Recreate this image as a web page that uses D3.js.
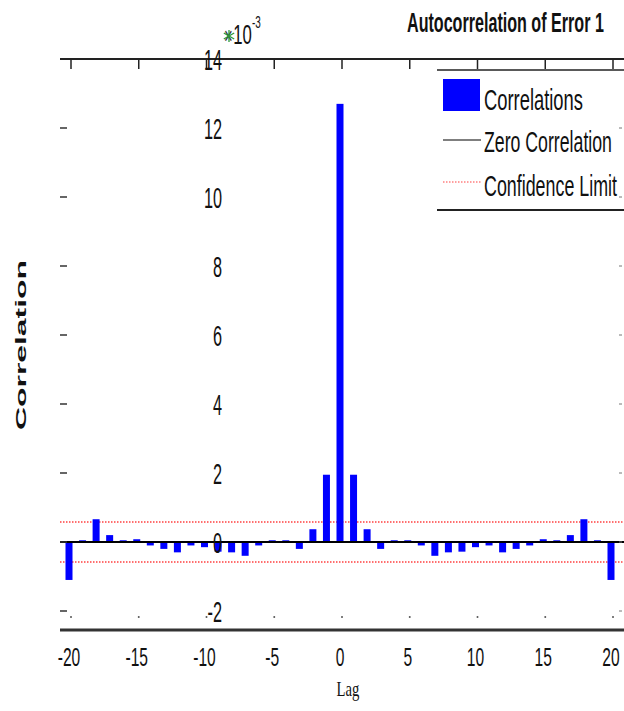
<!DOCTYPE html>
<html><head><meta charset="utf-8">
<script src="https://cdn.jsdelivr.net/npm/d3@7"></script>
<style>body{margin:0;background:#fff}svg{display:block}</style>
</head><body>
<script>
const lags = d3.range(-20, 21);
const correlations = [
 -1.1, 0.05, 0.66, 0.2, 0.05, 0.08, -0.1, -0.2, -0.3, -0.1, -0.15,
 -0.28, -0.3, -0.4, -0.1, 0.05, 0.05, -0.2, 0.37, 1.95, 12.7,
 1.95, 0.37, -0.2, 0.05, 0.05, -0.1, -0.4, -0.3, -0.28, -0.15,
 -0.1, -0.3, -0.2, -0.1, 0.08, 0.05, 0.2, 0.66, 0.05, -1.1];
const confidenceLimit = 0.58;
const xTicks = [-20, -15, -10, -5, 0, 5, 10, 15, 20];
const yTicks = [-2, 0, 2, 4, 6, 8, 10, 12, 14];
const title = "Autocorrelation of Error 1";
const legendLabels = ["Correlations", "Zero Correlation", "Confidence Limit"];

const W = 624, H = 711;
const svg = d3.select("body").append("svg").attr("width", W).attr("height", H);
const x = d3.scaleLinear().domain([-20, 20]).range([69, 611]);
const y = d3.scaleLinear().domain([-2, 14]).range([611, 59]);
const L = 60, R = 624, TOP = 59, BOT = 630;
const SANS = "Liberation Sans, Arial, sans-serif";

function stext(tx, ty, str, size, anchor, opt) {
  opt = opt || {};
  const g = svg.append("g");
  const t = g.append("text").attr("text-anchor", anchor).attr("dominant-baseline", opt.baseline || "central")
    .attr("font-family", opt.family || SANS).attr("font-size", size)
    .attr("font-weight", opt.weight || "normal").attr("fill", opt.fill || "#111").text(str);
  let sx = opt.sx || 1;
  if (opt.targetW) sx = opt.targetW / t.node().getComputedTextLength();
  g.attr("transform", `translate(${tx},${ty}) scale(${sx},1)`);
  return t;
}

// confidence lines
[confidenceLimit, -confidenceLimit].forEach(c => {
  svg.append("line").attr("x1", L).attr("x2", R).attr("y1", y(c)).attr("y2", y(c))
    .attr("stroke", "#ff4040").attr("stroke-width", 1.5).attr("stroke-dasharray", "1.5,1.5");
});

// bars
svg.selectAll("rect.bar").data(lags).join("rect").attr("class", "bar")
  .attr("x", d => x(d) - 3.5).attr("width", 7)
  .attr("y", (d, i) => y(Math.max(0, correlations[i])))
  .attr("height", (d, i) => Math.abs(y(correlations[i]) - y(0)))
  .attr("fill", "#0000ff");

// zero line
svg.append("line").attr("x1", L).attr("x2", R).attr("y1", y(0)).attr("y2", y(0))
  .attr("stroke", "#000").attr("stroke-width", 2);

// top axis
svg.append("line").attr("x1", L).attr("x2", R).attr("y1", TOP).attr("y2", TOP)
  .attr("stroke", "#222").attr("stroke-width", 2);
xTicks.forEach(t => {
  svg.append("line").attr("x1", x(t) + 2).attr("x2", x(t) + 2).attr("y1", TOP).attr("y2", TOP + 10)
    .attr("stroke", "#222").attr("stroke-width", 1.5);
  svg.append("circle").attr("cx", x(t) + 2).attr("cy", 617).attr("r", 1).attr("fill", "#555");
});
// bottom axis
svg.append("line").attr("x1", L).attr("x2", R).attr("y1", BOT).attr("y2", BOT)
  .attr("stroke", "#333").attr("stroke-width", 3);

// left/right y tick dashes
yTicks.forEach(t => {
  if (t === 14) return;
  svg.append("line").attr("x1", 60).attr("x2", 67).attr("y1", y(t)).attr("y2", y(t))
    .attr("stroke", "#333").attr("stroke-width", 1.5);
  svg.append("line").attr("x1", 619).attr("x2", 622).attr("y1", y(t)).attr("y2", y(t))
    .attr("stroke", "#777").attr("stroke-width", 1);
});

// y tick labels
yTicks.forEach(t => stext(222, y(t) + 1, String(t), 29, "end", { sx: 0.56 }));
// x tick labels
xTicks.forEach(t => stext(x(t), 658, String(t), 26, "middle", { sx: 0.6 }));

// exponent "×10^-3" with a green asterisk mark over the ×
{
  const g = svg.append("g").attr("transform", "translate(224,44) scale(0.62,1)");
  const t = g.append("text").attr("font-family", SANS).attr("fill", "#111");
  t.append("tspan").attr("font-size", 24).attr("fill", "#333").text("×");
  t.append("tspan").attr("font-size", 27).attr("dx", 1).text("10");
  t.append("tspan").attr("font-size", 16).attr("dy", -16).text("-3");
  const cx = 229, cy = 36, r = 6;
  [0, 60, 120].forEach(a => {
    const rad = a * Math.PI / 180;
    svg.append("line").attr("x1", cx - r * Math.sin(rad)).attr("x2", cx + r * Math.sin(rad))
      .attr("y1", cy - r * Math.cos(rad)).attr("y2", cy + r * Math.cos(rad))
      .attr("stroke", "#2a9a3a").attr("stroke-width", 1.3);
  });
}

// title
stext(407, 32, title, 27, "start", { weight: "bold", targetW: 197, baseline: "alphabetic" });

// y label
svg.append("text").attr("transform", "translate(26,345) rotate(-90)")
  .attr("text-anchor", "middle").attr("font-family", SANS)
  .attr("font-weight", "bold").attr("font-size", 15).attr("textLength", 170)
  .attr("lengthAdjust", "spacingAndGlyphs").attr("fill", "#111").text("Correlation");

// x label
stext(348, 696, "Lag", 21, "middle", { family: "Liberation Serif, Times New Roman, serif", sx: 0.7, baseline: "alphabetic" });

// legend
svg.append("line").attr("x1", 437).attr("x2", R).attr("y1", 70).attr("y2", 70)
  .attr("stroke", "#222").attr("stroke-width", 1.5);
svg.append("line").attr("x1", 437).attr("x2", R).attr("y1", 210).attr("y2", 210)
  .attr("stroke", "#222").attr("stroke-width", 2);
svg.append("rect").attr("x", 443).attr("y", 79).attr("width", 37).attr("height", 32).attr("fill", "#0000ff");
svg.append("line").attr("x1", 443).attr("x2", 481).attr("y1", 140).attr("y2", 140)
  .attr("stroke", "#000").attr("stroke-width", 1.2);
svg.append("line").attr("x1", 443).attr("x2", 481).attr("y1", 182).attr("y2", 182)
  .attr("stroke", "#ff4040").attr("stroke-width", 1.2).attr("stroke-dasharray", "1.5,1.5");
const legendY = [110, 152, 196], legendW = [99, 128, 133];
legendLabels.forEach((s, i) => {
  stext(484, legendY[i], s, 29, "start", { targetW: legendW[i], baseline: "alphabetic" });
});
</script>
</body></html>
